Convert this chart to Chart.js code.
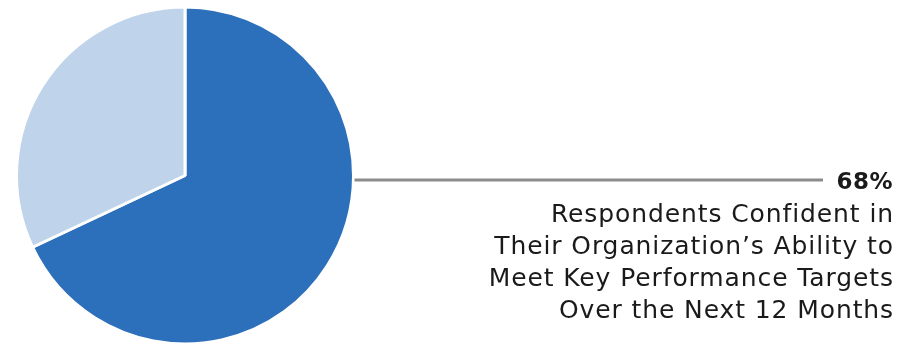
<!DOCTYPE html>
<html>
<head>
<meta charset="utf-8">
<script src="https://cdn.jsdelivr.net/npm/chart.js@4/dist/chart.umd.min.js"></script>
<style>
  html, body { margin: 0; padding: 0; background: #ffffff; overflow: hidden; }
  #wrap { position: relative; width: 915px; height: 346px; }
</style>
</head>
<body>
<div id="wrap"><canvas id="chart"></canvas></div>
<script>
const labels = ["Confident", "Not confident"];
const values = [68, 32];
const calloutLines = [
  "Respondents Confident in",
  "Their Organization\u2019s Ability to",
  "Meet Key Performance Targets",
  "Over the Next 12 Months",
];

const SLICE_COLORS = ["#2c6fba", "#bfd4ea"];
const TEXT_COLOR = "#1a1a1a";
const LEADER_COLOR = "#8c8c8c";
const FONT = "'DejaVu Sans', sans-serif";

// leader line + callout text on the right of the pie
const calloutPlugin = {
  id: "callout",
  afterDraw(chart) {
    const ctx = chart.ctx;
    const arc = chart.getDatasetMeta(0).data[0];
    const lineY = 180;
    const rightEdge = 893;

    ctx.save();
    ctx.strokeStyle = LEADER_COLOR;
    ctx.lineWidth = 3;
    ctx.beginPath();
    ctx.moveTo(arc.x + arc.outerRadius + 1, lineY);
    ctx.lineTo(823, lineY);
    ctx.stroke();

    ctx.fillStyle = TEXT_COLOR;
    ctx.textAlign = "right";
    ctx.textBaseline = "middle";
    ctx.letterSpacing = "0.5px";
    ctx.font = `bold 23px ${FONT}`;
    ctx.fillText(`${values[0]}%`, rightEdge, 183);

    ctx.letterSpacing = "0.9px";
    ctx.font = `25px ${FONT}`;
    calloutLines.forEach((line, i) => {
      ctx.fillText(line, rightEdge + 1, 215 + i * 32);
    });
    ctx.restore();
  },
};

new Chart(document.getElementById("chart"), {
  type: "pie",
  data: {
    labels,
    datasets: [
      {
        data: values,
        backgroundColor: SLICE_COLORS,
        borderColor: "#ffffff",
        borderWidth: 3,
      },
    ],
  },
  options: {
    responsive: true,
    maintainAspectRatio: false,
    animation: false,
    layout: { padding: { left: 15, top: 5, right: 560, bottom: 0 } },
    plugins: {
      legend: { display: false },
      tooltip: { enabled: false },
    },
  },
  plugins: [calloutPlugin],
});
</script>
</body>
</html>
